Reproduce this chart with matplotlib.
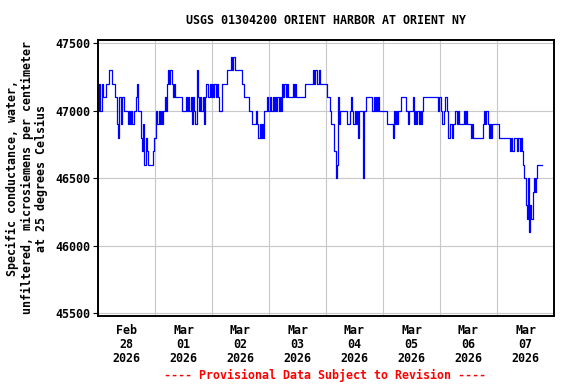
import pandas as pd
import matplotlib.pyplot as plt
import matplotlib.dates as mdates

# 30-minute readings, specific conductance (uS/cm at 25 C), one list per day
feb28 = [47000, 47200, 47000, 47200, 47100, 47100, 47100, 47200, 47200, 47300, 47300, 47300,
         47200, 47200, 47100, 47100, 46900, 46800, 47100, 46900, 47100, 47100, 47000, 47000,
         47000, 46900, 47000, 46900, 47000, 46900, 47000, 47000, 47100, 47200, 47000, 47000,
         46800, 46700, 46900, 46600, 46800, 46700, 46600, 46600, 46600, 46600, 46700, 46800]
mar01 = [46800, 47000, 46900, 47000, 46900, 47000, 46900, 47000, 47100, 47000, 47200, 47300,
         47200, 47300, 47200, 47100, 47200, 47100, 47100, 47100, 47100, 47100, 47100, 47000,
         47000, 47000, 47100, 47000, 47100, 47000, 47100, 46900, 47100, 47000, 46900, 47300,
         47100, 47000, 47100, 47000, 47100, 46900, 47100, 47200, 47200, 47100, 47200, 47100]
mar02 = [47200, 47100, 47200, 47100, 47200, 47100, 47000, 47000, 47200, 47200, 47200, 47200,
         47200, 47300, 47300, 47300, 47400, 47300, 47400, 47300, 47300, 47300, 47300, 47300,
         47300, 47200, 47200, 47100, 47100, 47100, 47100, 47000, 47000, 47000, 46900, 46900,
         46900, 47000, 46900, 46800, 46900, 46800, 46900, 46800, 47000, 47000, 47100, 47000]
mar03 = [47000, 47100, 47000, 47100, 47000, 47100, 47000, 47100, 47000, 47100, 47000, 47200,
         47100, 47200, 47100, 47200, 47100, 47100, 47100, 47100, 47200, 47100, 47200, 47100,
         47100, 47100, 47100, 47100, 47100, 47100, 47200, 47200, 47200, 47200, 47200, 47200,
         47200, 47300, 47200, 47300, 47200, 47200, 47300, 47200, 47200, 47200, 47200, 47200]
mar04 = [47200, 47100, 47100, 47000, 46900, 46900, 46900, 46700, 46500, 46600, 47100, 46900,
         47000, 47000, 47000, 47000, 47000, 47000, 46900, 46900, 47000, 47100, 47000, 46900,
         47000, 46900, 47000, 46800, 47000, 47000, 47000, 46500, 47000, 47000, 47100, 47100,
         47100, 47100, 47100, 47000, 47100, 47000, 47100, 47000, 47100, 47000, 47000, 47000]
mar05 = [47000, 47000, 47000, 46900, 46900, 46900, 46900, 46900, 46800, 47000, 46900, 47000,
         46900, 47000, 47000, 47100, 47100, 47100, 47100, 47000, 47000, 46900, 47000, 47000,
         47000, 47100, 46900, 47000, 46900, 47000, 46900, 47000, 46900, 47000, 47100, 47100,
         47100, 47100, 47100, 47100, 47100, 47100, 47100, 47100, 47100, 47100, 47000, 47100]
mar06 = [47100, 47000, 46900, 47000, 47100, 47100, 47000, 46800, 46900, 46900, 46800, 46900,
         46900, 47000, 46900, 47000, 46900, 46900, 46900, 46900, 47000, 46900, 47000, 46900,
         46900, 46900, 46800, 46900, 46800, 46800, 46800, 46800, 46800, 46800, 46800, 46800,
         46900, 47000, 46900, 47000, 46900, 46800, 46900, 46800, 46900, 46900, 46900, 46900]
mar07 = [46900, 46900, 46800, 46800, 46800, 46800, 46800, 46800, 46800, 46800, 46800, 46700,
         46800, 46700, 46800, 46800, 46800, 46700, 46800, 46700, 46800, 46700, 46600, 46500,
         46300, 46200, 46500, 46100, 46300, 46200, 46400, 46500, 46400, 46500, 46600, 46600,
         46600, 46600, 46600]

values = feb28 + mar01 + mar02 + mar03 + mar04 + mar05 + mar06 + mar07
times = pd.date_range("2026-02-28 00:00", periods=len(values), freq="30min")

title = "USGS 01304200 ORIENT HARBOR AT ORIENT NY"
ylabel = "Specific conductance, water,\nunfiltered, microsiemens per centimeter\nat 25 degrees Celsius"
yticks = [45500, 46000, 46500, 47000, 47500]

plt.rcParams['font.family'] = 'DejaVu Sans Mono'
plt.rcParams['font.weight'] = 'bold'
fs = 8.4

fig = plt.figure(figsize=(5.76, 3.84), dpi=100)
ax = fig.add_axes([98 / 576, 1 - 316 / 384, 456 / 576, 276.5 / 384])

ax.plot(times, values, color='#0000ff', linewidth=0.9, drawstyle='steps-post')

ax.set_xlim(pd.Timestamp("2026-02-28"), pd.Timestamp("2026-03-08"))
ax.set_ylim(45478, 47526)
ax.set_yticks(yticks)
ax.set_yticklabels([str(v) for v in yticks], fontsize=fs, fontweight='bold')

ax.xaxis.set_major_locator(mdates.DayLocator())
ax.xaxis.set_major_formatter(plt.NullFormatter())
ax.xaxis.set_minor_locator(mdates.HourLocator(byhour=12))
ax.xaxis.set_minor_formatter(mdates.DateFormatter('%b\n%d\n%Y'))
ax.tick_params(axis='x', which='both', length=0, pad=6, labelsize=fs)
ax.tick_params(axis='y', length=3.5, width=0.8, pad=2, labelsize=fs)
for lbl in ax.xaxis.get_minorticklabels():
    lbl.set_linespacing(1.1)
    lbl.set_fontweight('bold')

ax.grid(True, which='major', color='#c8c8c8', linewidth=0.8)
ax.set_axisbelow(True)
for sp in ax.spines.values():
    sp.set_linewidth(1.4)
    sp.set_color('black')

fig.text(326 / 576, 1 - 20 / 384, title, ha='center', va='center', fontsize=fs, fontweight='bold')
fig.text(27 / 576, 1 - 178 / 384, ylabel, ha='center', va='center', rotation=90,
         multialignment='center', linespacing=1.15, fontsize=fs, fontweight='bold')
fig.text(325 / 576, 1 - 375 / 384, "---- Provisional Data Subject to Revision ----",
         ha='center', va='center', color='red', fontsize=fs, fontweight='bold')

plt.savefig('out.png', dpi=100)
